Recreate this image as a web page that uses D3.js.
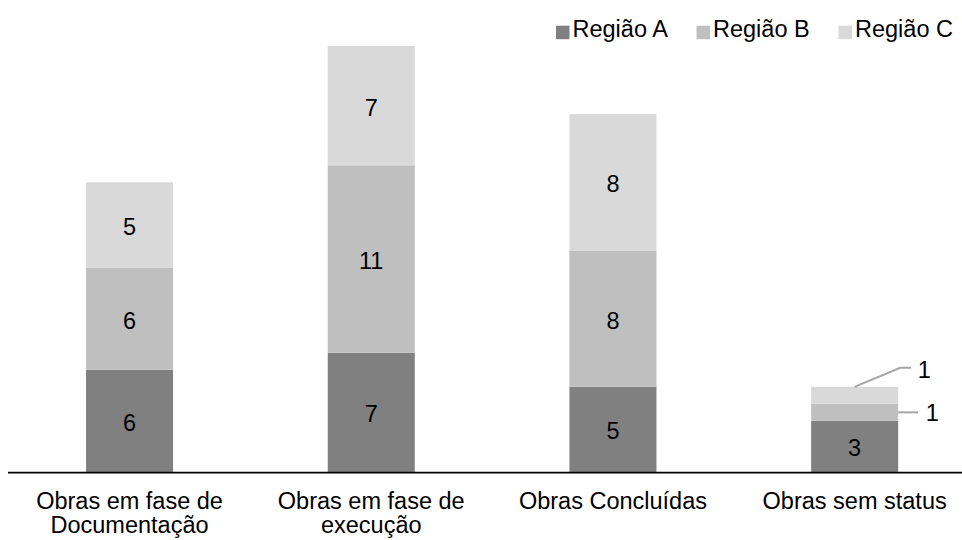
<!DOCTYPE html>
<html>
<head>
<meta charset="utf-8">
<script src="https://cdn.jsdelivr.net/npm/d3@7/dist/d3.min.js"></script>
<style>
  html, body { margin: 0; padding: 0; background: #fff; }
  svg { display: block; font-family: "Liberation Sans", Arial, sans-serif; }
</style>
</head>
<body>
<svg id="chart" width="962" height="540"></svg>
<script>
// Obras por status, empilhadas por região
const categories = [
  ["Obras em fase de", "Documentação"],
  ["Obras em fase de", "execução"],
  ["Obras Concluídas"],
  ["Obras sem status"]
];
const seriesNames = ["Região A", "Região B", "Região C"];
const regiaoA = [6, 7, 5, 3];
const regiaoB = [6, 11, 8, 1];
const regiaoC = [5, 7, 8, 1];
const colors = ["#808080", "#bfbfbf", "#d9d9d9"];

const rows = categories.map((c, i) => ({
  key: i,
  "Região A": regiaoA[i],
  "Região B": regiaoB[i],
  "Região C": regiaoC[i]
}));

const svg = d3.select("#chart");
const fontSize = 23.5;

const x = d3.scaleBand()
  .domain(d3.range(categories.length))
  .range([8.7, 975.5])
  .paddingInner(0.64)
  .paddingOuter(0.32);

const y = d3.scaleLinear().domain([0, 25]).range([472, 46]);

const stacked = d3.stack().keys(seriesNames)(rows);

// stacked segments
const layers = svg.append("g").selectAll("g")
  .data(stacked)
  .join("g")
  .attr("fill", (d, i) => colors[i]);

layers.selectAll("rect")
  .data(d => d.map(p => ({ p, key: d.key })))
  .join("rect")
  .attr("x", d => x(d.p.data.key))
  .attr("width", x.bandwidth())
  .attr("y", d => y(d.p[1]))
  .attr("height", d => y(d.p[0]) - y(d.p[1]));

// value labels: inside for tall segments, outside with leader lines for thin ones
const labels = svg.append("g")
  .attr("font-size", fontSize)
  .attr("fill", "#000");

stacked.forEach((layer, li) => {
  layer.forEach(p => {
    const v = p[1] - p[0];
    const cx = x(p.data.key) + x.bandwidth() / 2;
    const cy = (y(p[0]) + y(p[1])) / 2;
    const h = y(p[0]) - y(p[1]);
    if (h > 30) {
      labels.append("text")
        .attr("x", cx)
        .attr("y", cy + 1.5)
        .attr("text-anchor", "middle")
        .attr("dy", "0.36em")
        .text(v);
    } else {
      const right = x(p.data.key) + x.bandwidth();
      let pts, tx, ty;
      if (li === seriesNames.length - 1) {
        // top segment: diagonal leader from the top edge
        const ly = y(p[1]) - 19;
        pts = [[cx, y(p[1])], [right + 2, ly], [right + 13, ly]];
        tx = right + 19.5; ty = ly + 1.5;
      } else {
        pts = [[right, cy], [right + 20, cy]];
        tx = right + 27.5; ty = cy;
      }
      svg.append("path")
        .attr("d", d3.line()(pts))
        .attr("fill", "none")
        .attr("stroke", "#a6a6a6")
        .attr("stroke-width", 2);
      labels.append("text")
        .attr("x", tx)
        .attr("y", ty)
        .attr("dy", "0.36em")
        .text(v);
    }
  });
});

// baseline axis
svg.append("line")
  .attr("x1", 8).attr("x2", 962)
  .attr("y1", y(0) + 0.5).attr("y2", y(0) + 0.5)
  .attr("stroke", "#000")
  .attr("stroke-width", 1.75);

// category labels, one text element per line
const cat = svg.append("g")
  .attr("font-size", fontSize)
  .attr("fill", "#000")
  .attr("text-anchor", "middle");

categories.forEach((lines, i) => {
  lines.forEach((ln, j) => {
    cat.append("text")
      .attr("x", x(i) + x.bandwidth() / 2)
      .attr("y", 509 + j * 24)
      .text(ln);
  });
});

// legend
const legendX = [556, 696.5, 838.5];
const legend = svg.append("g").attr("font-size", fontSize);
seriesNames.forEach((name, i) => {
  legend.append("rect")
    .attr("x", legendX[i])
    .attr("y", 25.7)
    .attr("width", 13.5)
    .attr("height", 13.5)
    .attr("fill", colors[i]);
  legend.append("text")
    .attr("x", legendX[i] + 16.5)
    .attr("y", 37)
    .attr("fill", "#000")
    .text(name);
});
</script>
</body>
</html>
